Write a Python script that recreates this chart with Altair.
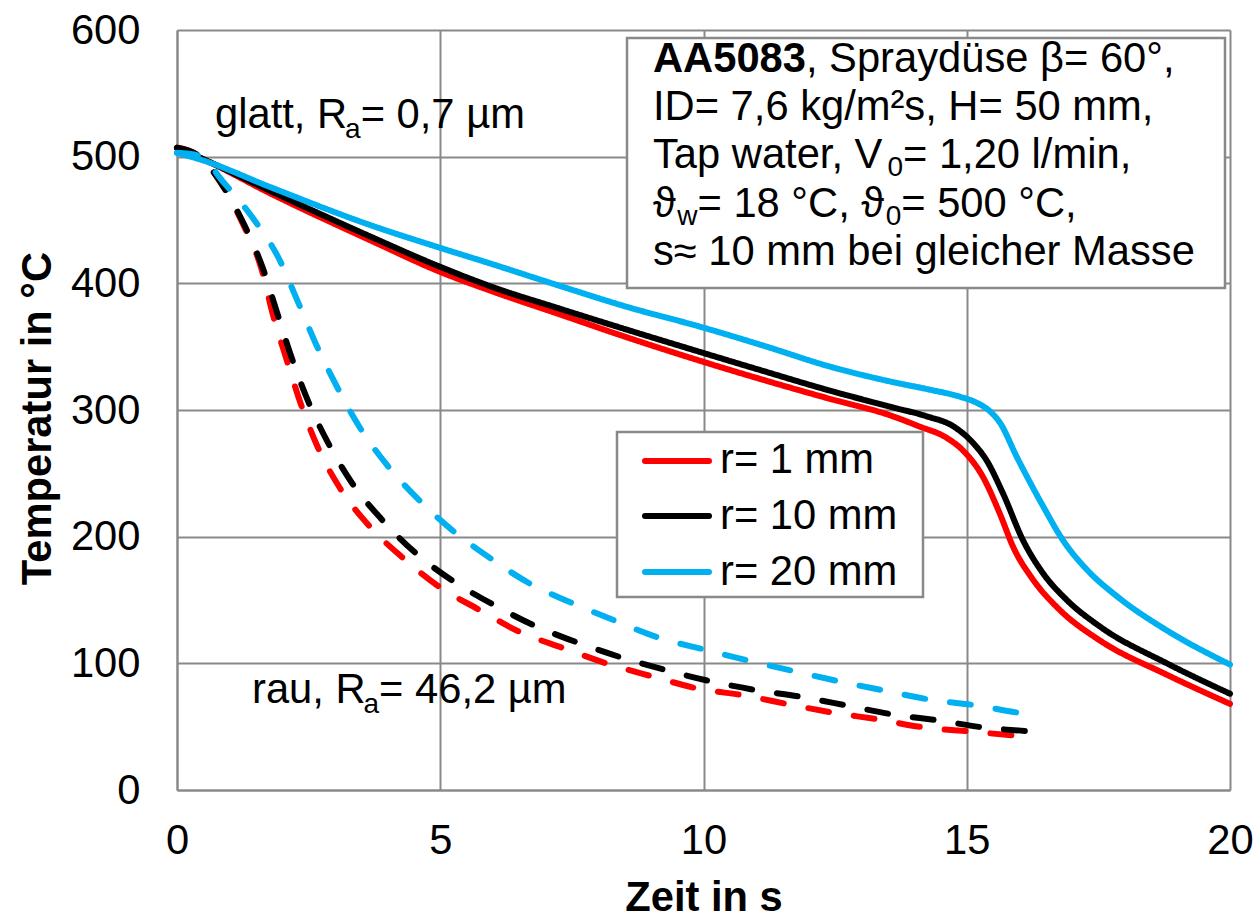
import altair as alt
import pandas as pd

# ---- Abkühlkurven (Zeit in s, Temperatur in °C) ----
radius_labels = ["r= 1 mm", "r= 10 mm", "r= 20 mm"]
radius_colors = ["#FF0000", "#000000", "#00B0F0"]
surfaces = ["glatt", "rau"]

# glatte Oberfläche
t_glatt_r1 = [0, 0.5, 1.77, 3.67, 5.0, 6.0, 7.27, 8.5, 10.0, 11.2, 12.34, 13.6, 14.1,
              14.62, 14.93, 15.31, 15.63, 15.88, 16.26, 16.77, 17.53, 18.8, 20.0]
T_glatt_r1 = [507, 498, 471, 434, 409, 393.5, 375.5, 358, 338, 323, 309.5, 295, 287,
              278, 268, 247, 218, 192, 166, 142, 118, 91, 68]

t_glatt_r10 = [0, 0.5, 1.77, 3.67, 5.0, 6.0, 7.27, 8.5, 10.0, 11.2, 12.34, 13.6, 14.24,
               14.75, 15.12, 15.38, 15.69, 16.07, 16.45, 16.9, 17.53, 18.8, 20.0]
T_glatt_r10 = [507, 498, 473, 437, 413, 397, 380, 364, 345, 330, 316, 302, 295,
               287, 274, 260, 234, 197, 171, 150, 129, 100, 76]

t_glatt_r20 = [0, 0.5, 1.77, 3.67, 5.0, 6.0, 7.27, 8.5, 10.0, 11.2, 12.34, 13.6, 14.3,
               14.87, 15.2, 15.44, 15.63, 15.95, 16.45, 16.83, 17.28, 17.85, 18.8, 20.0]
T_glatt_r20 = [503, 497, 476, 446, 428, 415, 398, 382, 365, 350, 335, 322, 316,
               310.5, 305.5, 299, 290, 263, 224, 197, 174, 153, 126, 99]

# raue Oberfläche
t_rau_r1 = [0, 0.4, 0.84, 1.25, 1.6, 1.83, 2.08, 2.35, 2.67, 3.1, 3.64, 4.27, 4.96, 5.73,
            6.5, 7.34, 8.19, 9.04, 9.9, 10.78, 11.63, 12.47, 13.32, 14.19, 15.07, 15.9, 16.2]
T_rau_r1 = [507, 501, 479, 447, 412, 374, 340, 305, 271, 238, 209, 184, 161, 142.5,
            125, 112, 99.5, 89.5, 80, 74.6, 67.5, 61, 55.7, 49.4, 46.2, 43, 42]

t_rau_r10 = [0, 0.4, 0.84, 1.28, 1.63, 1.9, 2.18, 2.49, 2.87, 3.33, 3.88, 4.52, 5.24, 6.0,
             6.78, 7.6, 8.45, 9.3, 10.17, 10.98, 11.86, 12.72, 13.6, 14.48, 15.33, 16.22, 16.5]
T_rau_r10 = [507, 501, 479, 446, 412, 377, 341, 307, 274, 242, 214, 187.5, 165, 146.5,
             130, 116.5, 104.5, 94.5, 85.5, 79, 73.5, 66.7, 59.6, 54.8, 49.3, 46.2, 45]

t_rau_r20 = [0, 0.4, 0.9, 1.45, 1.93, 2.29, 2.64, 3.03, 3.46, 3.98, 4.57, 5.23, 5.95, 6.7,
             7.48, 8.3, 9.13, 10.0, 10.87, 11.75, 12.6, 13.43, 14.35, 15.2, 16.0, 16.3]
T_rau_r20 = [503, 501, 479, 451, 420, 386, 352, 319, 287, 257, 230, 205, 183, 163,
             148, 134, 120.5, 111, 102, 93.5, 85.5, 78.5, 71, 66.7, 61, 60]

x_ticks = [0, 5, 10, 15, 20]
y_ticks = [0, 100, 200, 300, 400, 500, 600]

series = [
    ("glatt", radius_labels[0], t_glatt_r1, T_glatt_r1),
    ("glatt", radius_labels[1], t_glatt_r10, T_glatt_r10),
    ("glatt", radius_labels[2], t_glatt_r20, T_glatt_r20),
    ("rau", radius_labels[0], t_rau_r1, T_rau_r1),
    ("rau", radius_labels[1], t_rau_r10, T_rau_r10),
    ("rau", radius_labels[2], t_rau_r20, T_rau_r20),
]
rows = []
for k, (surf, rad, ts, Ts) in enumerate(series):
    for t, T in zip(ts, Ts):
        rows.append({"Zeit": t, "Temperatur": T, "Radius": rad, "Oberflaeche": surf, "k": k})
df = pd.DataFrame(rows)

# ---- Layout ----
FONT = "Liberation Sans"
GRID = "#898989"
FS = 41.7        # Grundschrift
FS_SUB = 28      # Indexschrift
W, H = 1053, 760
OX, OY = 177, 30  # Ursprung der Zeichenfläche im Fenster

# Arial/Liberation-Sans-Laufweiten (1/1000 em)
REG = {" ": 278, ",": 278, ".": 278, "/": 278, "=": 584, "°": 400, "²": 333, "≈": 584,
       "µ": 556, "β": 575, "ϑ": 630, "A": 667, "C": 722, "D": 722, "H": 722, "I": 278,
       "M": 833, "R": 722, "S": 667, "T": 611, "V": 667, "a": 556, "b": 556, "c": 500,
       "d": 556, "e": 556, "g": 556, "h": 556, "i": 222, "k": 500, "l": 222, "m": 833,
       "n": 556, "p": 556, "r": 333, "s": 500, "t": 278, "u": 556, "w": 722, "y": 500,
       "ü": 556}
BOLD = {"A": 722, ",": 278}


def text_width(s, size, bold=False):
    total = 0
    for c in s:
        if bold and c in BOLD:
            total += BOLD[c]
        else:
            total += REG.get(c, 556)
    return total * size / 1000.0


def text_run(segments, x0, base, sub_drop=10):
    """segments: (text, kind) with kind in 'reg', 'bold', 'sub'"""
    out = []
    x = x0
    for txt, kind in segments:
        size = FS_SUB if kind == "sub" else FS
        if kind == "sub":
            x -= 2
        dy = sub_drop if kind == "sub" else 0
        weight = "bold" if kind == "bold" else "normal"
        out.append(
            alt.Chart(pd.DataFrame({"s": [txt]}))
            .mark_text(font=FONT, fontSize=size, fontWeight=weight, align="left",
                       baseline="alphabetic", color="black")
            .encode(text="s:N", x=alt.value(x), y=alt.value(base + dy))
        )
        x += text_width(txt, size, kind == "bold")
    return out


lines = (
    alt.Chart(df)
    .mark_line(interpolate="monotone", strokeWidth=6, strokeCap="round")
    .encode(
        x=alt.X("Zeit:Q", scale=alt.Scale(domain=[0, 20], nice=False),
                axis=alt.Axis(values=x_ticks, title="Zeit in s", grid=True, gridColor=GRID,
                              gridWidth=2, domainColor=GRID, domainWidth=2, ticks=False,
                              tickSize=0, labelFlush=False, labelFont=FONT, labelFontSize=FS,
                              labelColor="black", labelPadding=63,
                              labelBaseline="alphabetic",
                              titleFont=FONT, titleFontSize=FS, titleFontWeight="bold",
                              titleColor="black", titleX=W / 2, titleY=120,
                              titleBaseline="alphabetic", titleAlign="center")),
        y=alt.Y("Temperatur:Q", scale=alt.Scale(domain=[0, 600], nice=False),
                axis=alt.Axis(values=y_ticks, title="Temperatur in °C", grid=True,
                              gridColor=GRID, gridWidth=2, domainColor=GRID, domainWidth=2,
                              ticks=False, tickSize=0, labelFlush=False, labelFont=FONT,
                              labelFontSize=FS, labelColor="black", labelPadding=37,
                              titleFont=FONT, titleFontSize=FS, titleFontWeight="bold",
                              titleColor="black", titleAngle=270, titleX=50 - OX,
                              titleY=H / 2 + 8, titleBaseline="alphabetic",
                              titleAlign="center")),
        color=alt.Color("Radius:N", scale=alt.Scale(domain=radius_labels, range=radius_colors),
                        legend=None),
        strokeDash=alt.StrokeDash("Oberflaeche:N",
                                  scale=alt.Scale(domain=surfaces, range=[[1, 0], [21, 25]]),
                                  legend=None),
        detail="k:N",
    )
)

one = pd.DataFrame({"v": [0]})


def box(x1, y1, x2, y2):
    return (
        alt.Chart(one)
        .mark_rect(fill="white", stroke=GRID, strokeWidth=2.5)
        .encode(x=alt.value(x1 - OX), x2=alt.value(x2 - OX),
                y=alt.value(y1 - OY), y2=alt.value(y2 - OY))
    )


layers = [lines, box(627, 38, 1225, 288), box(617, 432, 923, 597)]

# Legende
legend_line_y = [461, 516, 572]
legend_text_y = [473, 529, 585]
for lab, col, ly, ty in zip(radius_labels, radius_colors, legend_line_y, legend_text_y):
    layers.append(
        alt.Chart(one)
        .mark_rule(color=col, strokeWidth=6, strokeCap="round")
        .encode(x=alt.value(645 - OX), x2=alt.value(709 - OX), y=alt.value(ly - OY))
    )
    layers.append(
        alt.Chart(pd.DataFrame({"s": [lab]}))
        .mark_text(font=FONT, fontSize=FS, align="left", baseline="alphabetic", color="black")
        .encode(text="s:N", x=alt.value(720 - OX), y=alt.value(ty - OY))
    )

# Versuchsbedingungen
info_lines = [
    [("AA5083", "bold"), (",  Spraydüse β= 60°,", "reg")],
    [("ID= 7,6 kg/m²s, H= 50 mm,", "reg")],
    [("Tap water, V", "reg"), ("0", "sub"), ("= 1,20 l/min,", "reg")],
    [("ϑ", "reg"), ("w", "sub"), ("= 18 °C, ϑ", "reg"), ("0", "sub"), ("= 500 °C,", "reg")],
    [("s≈ 10 mm bei gleicher Masse", "reg")],
]
info_base = [72, 120, 168, 217, 265]
for segs, b in zip(info_lines, info_base):
    layers += text_run(segs, 653 - OX, b - OY, sub_drop=8)

# Oberflächenbeschriftung
layers += text_run([("glatt, R", "reg"), ("a", "sub"), ("= 0,7 µm", "reg")], 215 - OX, 128 - OY)
layers += text_run([("rau, R", "reg"), ("a", "sub"), ("= 46,2 µm", "reg")], 252 - OX, 703 - OY)

chart = (
    alt.layer(*layers)
    .properties(width=W, height=H,
                padding={"left": OX, "top": OY, "right": 1258 - OX - W, "bottom": 919 - OY - H},
                autosize=alt.AutoSizeParams(type="none"))
    .configure_view(stroke=None)
)

chart.save("out.html", embed_options={"renderer": "svg", "actions": False})
